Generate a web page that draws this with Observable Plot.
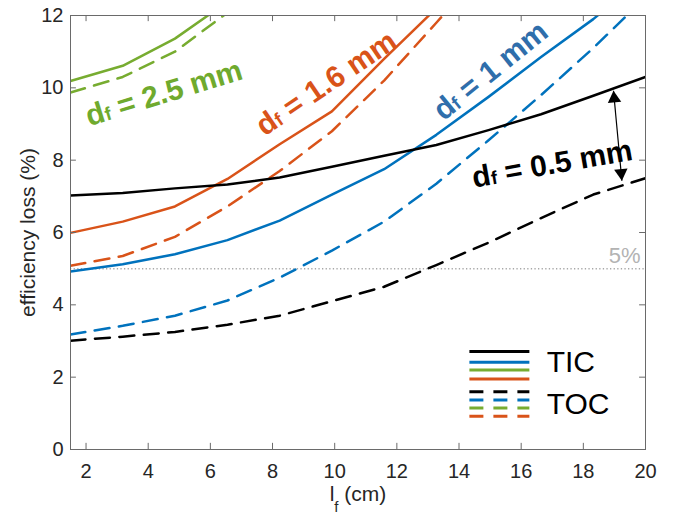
<!DOCTYPE html>
<html>
<head>
<meta charset="utf-8">
<script src="https://cdn.jsdelivr.net/npm/d3@7"></script>
<script src="https://cdn.jsdelivr.net/npm/@observablehq/plot@0.6"></script>
<style>
  html, body { margin: 0; padding: 0; background: #fff; }
  #chart { width: 675px; height: 515px; }
</style>
</head>
<body>
<div id="chart"></div>
<script>
// ---------- data ----------
const lf = [1.5, 3.18, 4.86, 6.55, 8.23, 9.91, 11.59, 13.27, 14.95, 16.64, 18.32, 20];

const ticD05 = [7.02, 7.09, 7.22, 7.33, 7.52, 7.82, 8.12, 8.42, 8.83, 9.27, 9.78, 10.30];
const tocD05 = [3.01, 3.12, 3.25, 3.45, 3.70, 4.10, 4.50, 5.10, 5.72, 6.40, 7.05, 7.50];
const ticD1  = [4.92, 5.12, 5.40, 5.79, 6.33, 7.05, 7.75, 8.70, 9.75, 10.85, 11.90, 13.10];
const tocD1  = [3.18, 3.42, 3.70, 4.12, 4.75, 5.50, 6.30, 7.35, 8.55, 9.80, 11.10, 12.50];
const ticD16 = [5.99, 6.30, 6.72, 7.48, 8.44, 9.35, 10.80, 12.20, 13.70];
const tocD16 = [5.08, 5.35, 5.88, 6.72, 7.70, 8.80, 10.20, 11.80, 13.40];
const ticD25 = [10.19, 10.61, 11.36, 12.38];
const tocD25 = [9.87, 10.30, 11.00, 12.08];

const diameters = ["0.5", "1", "1.6", "2.5"];
const lineColors = ["#000000", "#0072BD", "#D95319", "#77AC30"];

const xTicks = [2, 4, 6, 8, 10, 12, 14, 16, 18, 20];
const yTicks = [0, 2, 4, 6, 8, 10, 12];
const xDomain = [1.5, 20];
const yDomain = [0, 12];
const threshold = [5];
const thresholdLabel = ["5%"];

const labels = [
  {text: "df = 2.5 mm", x: 4.51, y: 9.85, angle: -17, color: "#6FAA2E"},
  {text: "df = 1.6 mm", x: 9.73, y: 10.12, angle: -34, color: "#D95319"},
  {text: "df = 1 mm",   x: 15.02, y: 10.47, angle: -39, color: "#2F6EAB"},
  {text: "df = 0.5 mm", x: 17.0, y: 7.89, angle: -10, color: "#000000"}
];
const arrowEnds = {x1: 18.97, y1: 9.92, x2: 19.24, y2: 7.43};

const legendTIC = [
  {d: "0.5", y: 2.71}, {d: "1", y: 2.41}, {d: "2.5", y: 2.20}, {d: "1.6", y: 1.95}
];
const legendTOC = [
  {d: "0.5", y: 1.60}, {d: "1", y: 1.37}, {d: "2.5", y: 1.15}, {d: "1.6", y: 0.92}
];
const legendText = [{t: "TIC", y: 2.42}, {t: "TOC", y: 1.24}];
const legendX = [14.35, 16.28, 16.82];

// ---------- build long tables ----------
function rows(vals, d) { return vals.map((v, i) => ({x: lf[i], y: v, d})); }
const tic = [...rows(ticD25, "2.5"), ...rows(ticD16, "1.6"), ...rows(ticD1, "1"), ...rows(ticD05, "0.5")];
const toc = [...rows(tocD25, "2.5"), ...rows(tocD16, "1.6"), ...rows(tocD1, "1"), ...rows(tocD05, "0.5")];

const tickLenY = 0.17, tickLenX = 0.19;
const axisGray = "#6a6a6a";

const chart = Plot.plot({
  width: 675,
  height: 515,
  marginLeft: 70,
  marginRight: 30,
  marginTop: 15,
  marginBottom: 66,
  style: {
    background: "white",
    fontFamily: "'Liberation Sans', Arial, Helvetica, sans-serif",
    fontSize: "20px",
    color: "#262626"
  },
  x: {domain: xDomain, ticks: xTicks, tickSize: 0, tickPadding: 14, label: null, tickFormat: d => String(d)},
  y: {domain: yDomain, ticks: yTicks, tickSize: 0, tickPadding: 7, label: null, tickFormat: d => String(d)},
  color: {domain: diameters, range: lineColors},
  marks: [
    // threshold
    Plot.ruleY(threshold, {stroke: "#a8a8a8", strokeWidth: 1.5, strokeDasharray: "1.3,2.3"}),
    Plot.text(thresholdLabel, {x: xDomain[1], y: threshold[0], text: d => d, dx: -5, dy: -13,
      textAnchor: "end", fill: "#b3b3b3", fontSize: 22}),
    // data lines
    Plot.line(toc, {x: "x", y: "y", z: "d", stroke: "d", strokeWidth: 2.5, strokeDasharray: "15,9.5", clip: true}),
    Plot.line(tic, {x: "x", y: "y", z: "d", stroke: "d", strokeWidth: 2.5, clip: true}),
    // frame and inward ticks
    Plot.frame({stroke: axisGray, strokeWidth: 1}),
    Plot.ruleX(xTicks, {x: d => d, y1: yDomain[0], y2: yDomain[0] + tickLenY, stroke: axisGray}),
    Plot.ruleX(xTicks, {x: d => d, y1: yDomain[1], y2: yDomain[1] - tickLenY, stroke: axisGray}),
    Plot.ruleY(yTicks, {y: d => d, x1: xDomain[0], x2: xDomain[0] + tickLenX, stroke: axisGray}),
    Plot.ruleY(yTicks, {y: d => d, x1: xDomain[1], x2: xDomain[1] - tickLenX, stroke: axisGray}),
    // annotation arrow
    Plot.link([arrowEnds], {x1: "x1", y1: "y1", x2: "x2", y2: "y2", stroke: "black", strokeWidth: 1.2}),
    Plot.dot([arrowEnds], {x: "x1", y: "y1", symbol: "triangle", r: 5, fill: "black", stroke: "none", rotate: -5.3, dx: 0.7, dy: 7.8}),
    Plot.dot([arrowEnds], {x: "x2", y: "y2", symbol: "triangle", r: 5, fill: "black", stroke: "none", rotate: 174.7, dx: -0.7, dy: -7.8}),
    // diameter labels
    ...labels.map(l => Plot.text([l], {x: "x", y: "y", text: "text", rotate: l.angle, fill: l.color,
      fontSize: 30, fontWeight: "bold", textAnchor: "middle"})),
    // legend
    Plot.ruleY(legendTIC, {y: "y", x1: legendX[0], x2: legendX[1], stroke: "d", strokeWidth: 3}),
    Plot.ruleY(legendTOC, {y: "y", x1: legendX[0], x2: legendX[1], stroke: "d", strokeWidth: 3, strokeDasharray: "14,10"}),
    Plot.text(legendText, {x: legendX[2], y: "y", text: "t", textAnchor: "start", fontSize: 30, fill: "black"}),
    // axis titles
    Plot.text(["efficiency loss (%)"], {frameAnchor: "left", text: d => d, rotate: -90, dx: -42,
      textAnchor: "middle", fontSize: 21, fill: "#262626"}),
    Plot.text(["lf (cm)"], {frameAnchor: "bottom", text: d => d, dy: 51, textAnchor: "middle", fontSize: 21, fill: "#262626"})
  ]
});

// subscripts for "df" and "lf"
d3.select(chart).selectAll("text").each(function () {
  const t = this.textContent;
  const sel = d3.select(this);
  let m = t.match(/^df( = .*)$/);
  if (m) {
    sel.text(null);
    sel.append("tspan").text("d");
    sel.append("tspan").attr("font-size", "0.62em").text("f");
    sel.append("tspan").text(m[1]);
    return;
  }
  m = t.match(/^lf( \(cm\))$/);
  if (m) {
    sel.text(null);
    sel.append("tspan").text("l");
    sel.append("tspan").attr("font-size", "15px").attr("dy", 11).text("f");
    sel.append("tspan").attr("dy", -11).text(m[1]);
  }
});

document.getElementById("chart").appendChild(chart);
</script>
</body>
</html>
